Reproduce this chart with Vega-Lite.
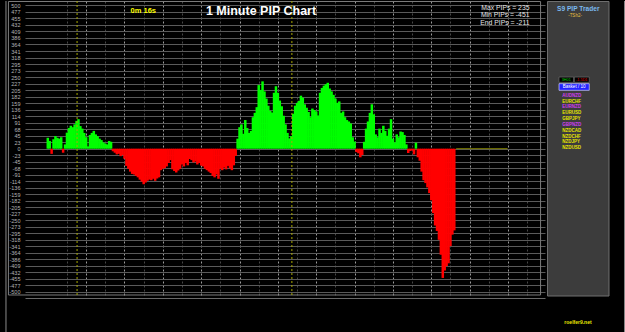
{
  "$schema": "https://vega.github.io/schema/vega-lite/v6.json",
  "background": "#000000",
  "padding": 0,
  "autosize": {"type": "pad"},
  "spacing": 2,
  "bounds": "flush",
  "config": {"view": {"stroke": null}, "font": "Liberation Sans"},
  "datasets": {
    "pips": [
      {"m":10,"pips":38},{"m":11,"pips":27},{"m":12,"pips":-18},{"m":13,"pips":33},{"m":14,"pips":44},{"m":15,"pips":38},{"m":16,"pips":35},{"m":17,"pips":40},{"m":18,"pips":-14},{"m":19,"pips":15},
      {"m":20,"pips":56},{"m":21,"pips":72},{"m":22,"pips":80},{"m":23,"pips":75},{"m":24,"pips":85},{"m":25,"pips":97},{"m":26,"pips":103},{"m":27,"pips":79},{"m":28,"pips":70},{"m":29,"pips":55},
      {"m":30,"pips":40},{"m":31,"pips":8},{"m":32,"pips":48},{"m":33,"pips":55},{"m":34,"pips":62},{"m":35,"pips":50},{"m":36,"pips":44},{"m":37,"pips":35},{"m":38,"pips":30},{"m":39,"pips":22},
      {"m":40,"pips":18},{"m":41,"pips":15},{"m":42,"pips":27},{"m":43,"pips":24},{"m":44,"pips":-9},{"m":45,"pips":-14},{"m":46,"pips":-20},{"m":47,"pips":-18},{"m":48,"pips":-26},{"m":49,"pips":-22},
      {"m":50,"pips":-35},{"m":51,"pips":-60},{"m":52,"pips":-70},{"m":53,"pips":-80},{"m":54,"pips":-88},{"m":55,"pips":-90},{"m":56,"pips":-95},{"m":57,"pips":-100},{"m":58,"pips":-108},{"m":59,"pips":-115},
      {"m":60,"pips":-124},{"m":61,"pips":-118},{"m":62,"pips":-112},{"m":63,"pips":-108},{"m":64,"pips":-110},{"m":65,"pips":-105},{"m":66,"pips":-112},{"m":67,"pips":-104},{"m":68,"pips":-100},{"m":69,"pips":-75},
      {"m":70,"pips":-70},{"m":71,"pips":-68},{"m":72,"pips":-62},{"m":73,"pips":-50},{"m":74,"pips":-40},{"m":75,"pips":-72},{"m":76,"pips":-78},{"m":77,"pips":-83},{"m":78,"pips":-76},{"m":79,"pips":-70},
      {"m":80,"pips":-55},{"m":81,"pips":-62},{"m":82,"pips":-50},{"m":83,"pips":-58},{"m":84,"pips":-36},{"m":85,"pips":-40},{"m":86,"pips":-48},{"m":87,"pips":-45},{"m":88,"pips":-55},{"m":89,"pips":-50},
      {"m":90,"pips":-59},{"m":91,"pips":-62},{"m":92,"pips":-70},{"m":93,"pips":-75},{"m":94,"pips":-80},{"m":95,"pips":-85},{"m":96,"pips":-95},{"m":97,"pips":-100},{"m":98,"pips":-90},{"m":99,"pips":-105},
      {"m":100,"pips":-70},{"m":101,"pips":-75},{"m":102,"pips":-66},{"m":103,"pips":-72},{"m":104,"pips":-60},{"m":105,"pips":-68},{"m":106,"pips":-75},{"m":107,"pips":-58},{"m":108,"pips":-25},{"m":109,"pips":35},
      {"m":110,"pips":75},{"m":111,"pips":85},{"m":112,"pips":52},{"m":113,"pips":100},{"m":114,"pips":72},{"m":115,"pips":55},{"m":116,"pips":62},{"m":117,"pips":110},{"m":118,"pips":125},{"m":119,"pips":145},
      {"m":120,"pips":222},{"m":121,"pips":205},{"m":122,"pips":235},{"m":123,"pips":200},{"m":124,"pips":175},{"m":125,"pips":150},{"m":126,"pips":132},{"m":127,"pips":126},{"m":128,"pips":195},{"m":129,"pips":218},
      {"m":130,"pips":195},{"m":131,"pips":168},{"m":132,"pips":148},{"m":133,"pips":115},{"m":134,"pips":85},{"m":135,"pips":55},{"m":136,"pips":36},{"m":137,"pips":44},{"m":138,"pips":122},{"m":139,"pips":150},
      {"m":140,"pips":160},{"m":141,"pips":167},{"m":142,"pips":185},{"m":143,"pips":178},{"m":144,"pips":155},{"m":145,"pips":143},{"m":146,"pips":128},{"m":147,"pips":110},{"m":148,"pips":140},{"m":149,"pips":135},
      {"m":150,"pips":130},{"m":151,"pips":116},{"m":152,"pips":195},{"m":153,"pips":212},{"m":154,"pips":220},{"m":155,"pips":225},{"m":156,"pips":230},{"m":157,"pips":210},{"m":158,"pips":200},{"m":159,"pips":188},
      {"m":160,"pips":175},{"m":161,"pips":160},{"m":162,"pips":165},{"m":163,"pips":125},{"m":164,"pips":130},{"m":165,"pips":110},{"m":166,"pips":100},{"m":167,"pips":95},{"m":168,"pips":88},{"m":169,"pips":40},
      {"m":170,"pips":25},{"m":171,"pips":-12},{"m":172,"pips":-16},{"m":173,"pips":-30},{"m":174,"pips":-22},{"m":175,"pips":24},{"m":176,"pips":70},{"m":177,"pips":95},{"m":178,"pips":125},{"m":179,"pips":155},
      {"m":180,"pips":120},{"m":181,"pips":50},{"m":182,"pips":40},{"m":183,"pips":70},{"m":184,"pips":55},{"m":185,"pips":80},{"m":186,"pips":62},{"m":187,"pips":45},{"m":188,"pips":70},{"m":189,"pips":103},
      {"m":190,"pips":35},{"m":191,"pips":22},{"m":192,"pips":50},{"m":193,"pips":40},{"m":194,"pips":60},{"m":195,"pips":58},{"m":196,"pips":48},{"m":197,"pips":15},{"m":198,"pips":-15},{"m":199,"pips":-8},
      {"m":200,"pips":-6},{"m":201,"pips":-20},{"m":202,"pips":21},{"m":203,"pips":-30},{"m":204,"pips":-42},{"m":205,"pips":-80},{"m":206,"pips":-110},{"m":207,"pips":-120},{"m":208,"pips":-135},{"m":209,"pips":-155},
      {"m":210,"pips":-180},{"m":211,"pips":-225},{"m":212,"pips":-268},{"m":213,"pips":-287},{"m":214,"pips":-318},{"m":215,"pips":-370},{"m":216,"pips":-451},{"m":217,"pips":-425},{"m":218,"pips":-410},{"m":219,"pips":-400},
      {"m":220,"pips":-340},{"m":221,"pips":-300},{"m":222,"pips":-285}
    ],
    "markers": [{"m": 25.27}, {"m": 137.3}],
    "pairs": [
      {"pair": "AUDNZD"}, {"pair": "EURCHF"}, {"pair": "EURNZD"}, {"pair": "EURUSD"}, {"pair": "GBPJPY"},
      {"pair": "GBPNZD"}, {"pair": "NZDCAD"}, {"pair": "NZDCHF"}, {"pair": "NZDJPY"}, {"pair": "NZDUSD"}
    ],
    "one": [{}]
  },
  "hconcat": [
    {
      "width": 520,
      "height": 295,
      "layer": [
        {
          "data": {"name": "pips"},
          "mark": {"type": "bar", "width": 2.5},
          "encoding": {
            "x": {
              "field": "m", "type": "quantitative",
              "scale": {"domain": [0.72, 266.7], "nice": false, "zero": false},
              "axis": {
                "title": null, "labels": false, "ticks": false, "tickCount": 200,
                "values": [20, 30, 40, 50, 60, 70, 80, 90, 100, 110, 120, 130, 140, 150, 160, 170, 180, 190, 200, 210, 220, 230, 240, 250, 260],
                "grid": true, "gridDash": [2, 2], "gridWidth": 1,
                "gridColor": {"condition": {"test": "datum.value % 20 === 0", "value": "#464646"}, "value": "#9a9a9a"},
                "domain": true, "domainColor": "#6a6a6a", "offset": 2
              }
            },
            "y": {
              "field": "pips", "type": "quantitative",
              "scale": {"domain": [-514, 515.4], "nice": false, "zero": false},
              "axis": {
                "title": null, "tickCount": 200,
                "values": [500, 477.27, 454.55, 431.82, 409.09, 386.36, 363.64, 340.91, 318.18, 295.45, 272.73, 250, 227.27, 204.55, 181.82, 159.09, 136.36, 113.64, 90.91, 68.18, 45.45, 22.73, 0, -22.73, -45.45, -68.18, -90.91, -113.64, -136.36, -159.09, -181.82, -204.55, -227.27, -250, -272.73, -295.45, -318.18, -340.91, -363.64, -386.36, -409.09, -431.82, -454.55, -477.27, -500],
                "labelExpr": "'' + round(datum.value)",
                "labelFont": "Liberation Sans", "labelFontSize": 5.5, "labelColor": "#b4b4b4",
                "labelPadding": 5, "labelOverlap": false,
                "ticks": false, "domain": false,
                "grid": true, "gridColor": "#5a5a5a", "gridWidth": 1,
                "minExtent": 25, "maxExtent": 25
              }
            },
            "color": {"condition": {"test": "datum.pips >= 0", "value": "#00ff00"}, "value": "#ff0000"}
          }
        },
        {
          "data": {"name": "one"},
          "mark": {"type": "rect", "fill": "transparent", "stroke": "#7c7c7c", "strokeWidth": 1},
          "encoding": {
            "x": {"datum": -10.53, "type": "quantitative"},
            "x2": {"datum": 267.0},
            "y": {"datum": 513.7, "type": "quantitative"},
            "y2": {"datum": -510.5}
          }
        },
        {
          "data": {"name": "one"},
          "mark": {"type": "rule", "color": "#8a8a8a", "strokeWidth": 1},
          "encoding": {
            "x": {"datum": -11.81, "type": "quantitative"},
            "y": {"datum": 515.4, "type": "quantitative"},
            "y2": {"datum": -641.4}
          }
        },
        {
          "data": {"name": "one"},
          "mark": {"type": "rule", "color": "#8a8a8a", "strokeWidth": 1},
          "encoding": {
            "x": {"datum": -11.81, "type": "quantitative"},
            "x2": {"datum": 268.0},
            "y": {"datum": -641.4, "type": "quantitative"}
          }
        },
        {
          "data": {"name": "markers"},
          "mark": {"type": "rule", "color": "#a8a800", "strokeDash": [2, 2], "strokeWidth": 1},
          "encoding": {"x": {"field": "m", "type": "quantitative"}}
        },
        {
          "data": {"name": "one"},
          "mark": {"type": "rule", "color": "#808000", "strokeWidth": 1},
          "encoding": {
            "x": {"datum": 222.97, "type": "quantitative"},
            "x2": {"datum": 249.8},
            "y": {"datum": 0, "type": "quantitative"}
          }
        },
        {
          "data": {"name": "one"},
          "mark": {"type": "text", "text": "1 Minute PIP Chart", "font": "Liberation Sans", "fontSize": 12.5, "fontWeight": "bold", "color": "#ffffff", "align": "center", "baseline": "middle"},
          "encoding": {
            "x": {"datum": 121.2, "type": "quantitative"},
            "y": {"datum": 480.5, "type": "quantitative"}
          }
        },
        {
          "data": {"name": "one"},
          "mark": {"type": "text", "text": "0m 16s", "font": "Liberation Sans", "fontSize": 7.5, "fontWeight": "bold", "color": "#ffff00", "align": "center", "baseline": "middle"},
          "encoding": {
            "x": {"datum": 59.8, "type": "quantitative"},
            "y": {"datum": 478.8, "type": "quantitative"}
          }
        },
        {
          "data": {"name": "one"},
          "mark": {"type": "text", "text": "Max PIPs = 235", "font": "Liberation Sans", "fontSize": 6.8, "color": "#e6e6e6", "align": "right", "baseline": "middle"},
          "encoding": {
            "x": {"datum": 261.2, "type": "quantitative"},
            "y": {"datum": 492.0, "type": "quantitative"}
          }
        },
        {
          "data": {"name": "one"},
          "mark": {"type": "text", "text": "Min PIPs = -451", "font": "Liberation Sans", "fontSize": 6.8, "color": "#e6e6e6", "align": "right", "baseline": "middle"},
          "encoding": {
            "x": {"datum": 261.2, "type": "quantitative"},
            "y": {"datum": 465.5, "type": "quantitative"}
          }
        },
        {
          "data": {"name": "one"},
          "mark": {"type": "text", "text": "End PIPs = -211", "font": "Liberation Sans", "fontSize": 6.8, "color": "#e6e6e6", "align": "right", "baseline": "middle"},
          "encoding": {
            "x": {"datum": 261.2, "type": "quantitative"},
            "y": {"datum": 439.7, "type": "quantitative"}
          }
        }
      ]
    },
    {
      "width": 78,
      "height": 332,
      "resolve": {"scale": {"y": "independent"}},
      "layer": [
        {
          "data": {"name": "one"},
          "layer": [
            {
              "mark": {"type": "rect", "fill": "#3c3c3c", "stroke": "#707070", "strokeWidth": 1},
              "encoding": {
                "x": {"datum": 0.64, "type": "quantitative", "scale": {"domain": [0, 100], "nice": false, "zero": false}, "axis": null},
                "x2": {"datum": 79.5},
                "y": {"datum": 0.15, "type": "quantitative", "scale": {"domain": [0, 100], "reverse": true, "nice": false, "zero": false}, "axis": null},
                "y2": {"datum": 88.86}
              }
            },
            {
              "mark": {"type": "rule", "color": "#8a8a8a", "strokeWidth": 1},
              "encoding": {
                "x": {"datum": 0, "type": "quantitative"},
                "x2": {"datum": 99.4},
                "y": {"datum": 99.85, "type": "quantitative"}
              }
            },
            {
              "mark": {"type": "rule", "color": "#8a8a8a", "strokeWidth": 1},
              "encoding": {
                "x": {"datum": 99.4, "type": "quantitative"},
                "y": {"datum": 0, "type": "quantitative"},
                "y2": {"datum": 99.85}
              }
            },
            {
              "mark": {"type": "rect", "fill": "#000000", "stroke": "#6a6a6a", "strokeWidth": 0.7},
              "encoding": {
                "x": {"datum": 15.4, "type": "quantitative"},
                "x2": {"datum": 34.2},
                "y": {"datum": 22.9, "type": "quantitative"},
                "y2": {"datum": 24.5}
              }
            },
            {
              "mark": {"type": "rect", "fill": "#000000", "stroke": "#6a6a6a", "strokeWidth": 0.7},
              "encoding": {
                "x": {"datum": 35.0, "type": "quantitative"},
                "x2": {"datum": 54.2},
                "y": {"datum": 22.9, "type": "quantitative"},
                "y2": {"datum": 24.5}
              }
            },
            {
              "mark": {"type": "rect", "fill": "#2424ff", "stroke": "#d0d0ff", "strokeWidth": 0.7},
              "encoding": {
                "x": {"datum": 15.4, "type": "quantitative"},
                "x2": {"datum": 54.2},
                "y": {"datum": 24.9, "type": "quantitative"},
                "y2": {"datum": 26.9}
              }
            },
            {
              "mark": {"type": "text", "text": "S9 PIP Trader", "font": "Liberation Sans", "fontSize": 6.6, "fontWeight": "bold", "color": "#7ab8ee", "align": "center", "baseline": "middle"},
              "encoding": {
                "x": {"datum": 40.1, "type": "quantitative"},
                "y": {"datum": 2.26, "type": "quantitative"}
              }
            },
            {
              "mark": {"type": "text", "text": "-TSh2-", "font": "Liberation Sans", "fontSize": 4.5, "color": "#e6c040", "align": "center", "baseline": "middle"},
              "encoding": {
                "x": {"datum": 35.9, "type": "quantitative"},
                "y": {"datum": 4.52, "type": "quantitative"}
              }
            },
            {
              "mark": {"type": "text", "text": "3H01", "font": "Liberation Sans", "fontSize": 3.8, "color": "#00d000", "align": "center", "baseline": "middle"},
              "encoding": {
                "x": {"datum": 24.7, "type": "quantitative"},
                "y": {"datum": 23.7, "type": "quantitative"}
              }
            },
            {
              "mark": {"type": "text", "text": "-1.5D1", "font": "Liberation Sans", "fontSize": 3.8, "color": "#e00000", "align": "center", "baseline": "middle"},
              "encoding": {
                "x": {"datum": 44.6, "type": "quantitative"},
                "y": {"datum": 23.7, "type": "quantitative"}
              }
            },
            {
              "mark": {"type": "text", "text": "Basket / 10", "font": "Liberation Sans", "fontSize": 4.6, "color": "#ffffff", "align": "center", "baseline": "middle"},
              "encoding": {
                "x": {"datum": 34.8, "type": "quantitative"},
                "y": {"datum": 25.9, "type": "quantitative"}
              }
            },
            {
              "mark": {"type": "text", "text": "roelfer9.net", "font": "Liberation Sans", "fontSize": 5, "fontWeight": "bold", "color": "#e8e800", "align": "center", "baseline": "middle"},
              "encoding": {
                "x": {"datum": 39.7, "type": "quantitative"},
                "y": {"datum": 96.7, "type": "quantitative"}
              }
            }
          ]
        },
        {
          "data": {"name": "pairs"},
          "mark": {"type": "text", "font": "Liberation Sans", "fontSize": 4.5, "fontWeight": "bold", "align": "left", "baseline": "middle"},
          "encoding": {
            "x": {"datum": 19.6, "type": "quantitative"},
            "y": {"field": "pair", "type": "ordinal", "scale": {"type": "point", "range": [94.7, 147.3], "padding": 0}, "axis": null},
            "text": {"field": "pair"},
            "color": {"condition": {"test": "indexof(datum.pair, 'NZD') === 3", "value": "#d040f0"}, "value": "#e6e600"}
          }
        }
      ]
    }
  ]
}
